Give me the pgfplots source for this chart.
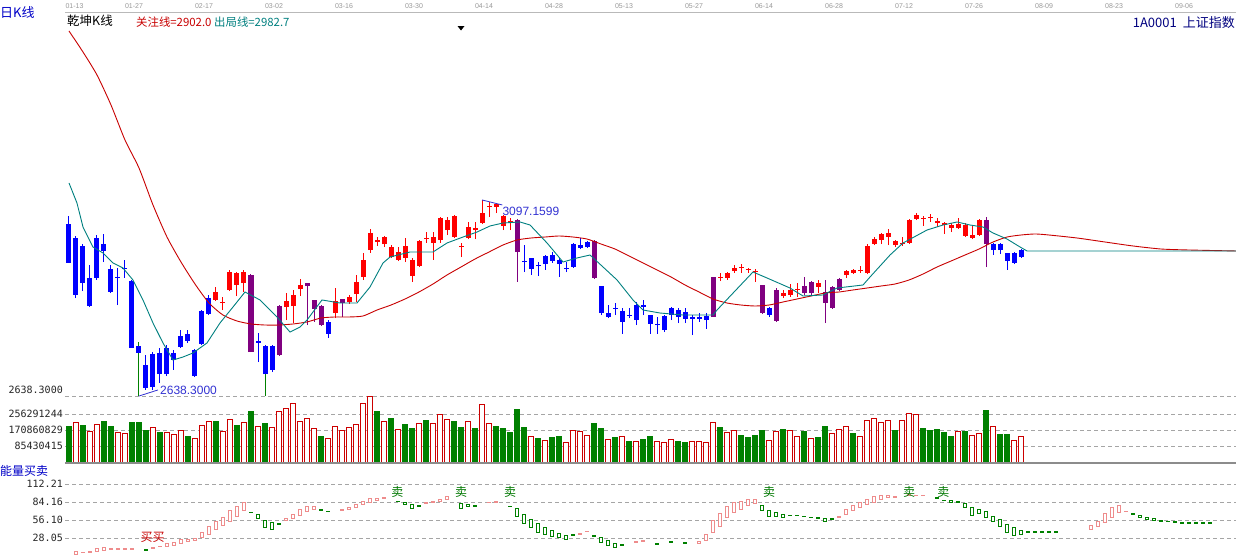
\documentclass[border=0pt]{standalone}
\usepackage{pgfplots}
\pgfplotsset{compat=1.18}
\usepackage{pgfplotstable}
\usepackage{fontspec}
\setmainfont{Liberation Sans}
\newfontfamily\cjk{Noto Sans CJK SC}
\newfontfamily\mono{DejaVu Sans Mono}
\definecolor{kred}{RGB}{255,0,0}
\definecolor{kblue}{RGB}{0,0,255}
\definecolor{kpurple}{RGB}{128,0,128}
\definecolor{kgreen}{RGB}{0,128,0}
\definecolor{lred}{RGB}{200,0,0}
\definecolor{lteal}{RGB}{0,128,128}
\definecolor{vgreen}{RGB}{0,128,0}
\definecolor{vred}{RGB}{204,0,0}
\definecolor{ppink}{RGB}{238,140,140}
\definecolor{gridgray}{RGB}{165,165,165}
\definecolor{navy}{RGB}{0,0,128}
\definecolor{lblue}{RGB}{0,0,200}
\definecolor{annblue}{RGB}{50,50,210}
\definecolor{sellgreen}{RGB}{0,120,0}

% candles: i open high low close
\pgfplotstableread{
i o h l c
0 3041.0 3059.7 2949.7 2949.7
1 3008.2 3012.9 2867.7 2874.8
2 2989.5 2994.1 2884.1 2902.8
3 2914.6 2945.0 2846.7 2849.0
4 3008.2 3015.2 2909.9 2914.6
5 2994.1 3017.6 2952.0 2977.8
6 2935.6 2945.0 2879.4 2881.8
7 2916.9 2938.0 2851.3 2914.6
8 2938.0 2956.7 2914.6 2935.6
9 2907.5 2909.9 2750.7 2750.7
10 2755.4 2755.4 2739.0 2739.0
11 2710.9 2734.3 2652.4 2657.1
12 2736.6 2741.3 2652.4 2659.4
13 2739.0 2750.7 2668.8 2689.8
14 2750.7 2757.7 2685.1 2689.8
15 2739.0 2746.0 2699.2 2722.6
16 2778.8 2792.8 2750.7 2753.0
17 2783.5 2792.8 2762.4 2767.1
18 2746.0 2748.3 2682.8 2685.1
19 2837.3 2839.6 2757.7 2760.1
20 2867.7 2874.8 2827.9 2830.3
27 2767.1 2785.8 2717.9 2762.4
28 2755.4 2757.7 2689.8 2689.8
29 2755.4 2757.7 2694.5 2699.2
37 2811.6 2816.2 2774.1 2783.5
65 2954.3 2991.8 2928.6 2952.0
66 2961.4 2961.4 2921.6 2935.6
67 2945.0 2952.0 2919.2 2942.6
68 2966.1 2968.4 2933.3 2947.3
69 2968.4 2975.4 2949.7 2954.3
70 2956.7 2961.4 2916.9 2947.3
71 2938.0 2952.0 2928.6 2935.6
72 2994.1 2996.5 2938.0 2940.3
73 2991.8 3008.2 2982.4 2984.8
74 2998.8 3001.2 2984.8 2987.1
76 2895.8 2895.8 2827.9 2832.6
77 2832.6 2851.3 2820.9 2823.3
78 2844.3 2856.0 2827.9 2842.0
79 2837.3 2844.3 2783.5 2811.6
80 2827.9 2844.3 2820.9 2825.6
81 2851.3 2858.4 2804.5 2816.2
82 2851.3 2863.1 2827.9 2846.7
83 2827.9 2827.9 2783.5 2806.9
84 2806.9 2823.3 2783.5 2804.5
85 2825.6 2827.9 2788.1 2792.8
86 2844.3 2846.7 2816.2 2827.9
87 2839.6 2844.3 2809.2 2823.3
88 2835.0 2844.3 2809.2 2818.6
89 2823.3 2827.9 2781.1 2818.6
90 2823.3 2832.6 2811.6 2818.6
91 2825.6 2832.6 2795.2 2816.2
100 2844.3 2846.7 2823.3 2827.9
132 2994.1 2996.5 2968.4 2980.1
133 2994.1 2996.5 2970.7 2980.1
134 2973.1 2973.1 2933.3 2954.3
135 2973.1 2975.4 2947.3 2949.7
136 2980.1 2982.4 2961.4 2963.7
}\tblue

\pgfplotstableread{
i o h l c
26 2921.6 2923.9 2741.3 2741.3
30 2849.0 2851.3 2732.0 2734.3
34 2902.8 2902.8 2804.5 2895.8
35 2863.1 2863.1 2811.6 2842.0
36 2849.0 2851.3 2802.2 2804.5
39 2865.4 2865.4 2823.3 2856.0
64 3050.3 3052.7 2905.2 2975.4
75 3001.2 3003.5 2912.2 2914.6
92 2916.9 2916.9 2823.3 2823.3
99 2898.2 2898.2 2830.3 2832.6
101 2886.5 2891.1 2811.6 2813.9
105 2895.8 2916.9 2874.8 2879.4
106 2905.2 2907.5 2872.4 2879.4
108 2881.8 2909.9 2809.2 2856.0
109 2893.5 2895.8 2842.0 2844.3
110 2912.2 2914.6 2884.1 2886.5
131 3050.3 3057.4 2940.3 2994.1
}\tpurple

\pgfplotstableread{
i o h l c
21 2863.1 2893.5 2860.7 2881.8
22 2856.0 2870.1 2839.6 2858.4
23 2886.5 2933.3 2884.1 2928.6
24 2898.2 2928.6 2872.4 2926.3
25 2902.8 2933.3 2881.8 2928.6
31 2846.7 2879.4 2816.2 2860.7
32 2849.0 2886.5 2809.2 2874.8
33 2888.8 2912.2 2872.4 2898.2
38 2832.6 2891.1 2820.9 2860.7
40 2858.4 2874.8 2853.7 2870.1
41 2877.1 2921.6 2858.4 2905.2
42 2916.9 2973.1 2909.9 2956.7
43 2980.1 3029.3 2973.1 3019.9
44 2998.8 3010.5 2989.5 3003.5
45 2994.1 3012.9 2987.1 3010.5
46 2963.7 2991.8 2961.4 2987.1
47 2956.7 2987.1 2954.3 2975.4
48 2961.4 3008.2 2952.0 2989.5
49 2919.2 2961.4 2905.2 2956.7
50 2942.6 3003.5 2940.3 3001.2
51 3005.8 3022.2 2996.5 3008.2
52 2996.5 3022.2 2956.7 3010.5
53 3003.5 3057.4 2996.5 3055.0
54 3026.9 3057.4 3015.2 3050.3
55 3010.5 3062.0 3008.2 3059.7
56 2987.1 2996.5 2963.7 2989.5
57 3008.2 3045.7 3005.8 3033.9
58 3026.9 3045.7 3005.8 3031.6
59 3043.3 3097.2 3041.0 3066.7
60 3080.8 3092.5 3057.4 3083.1
61 3080.8 3090.1 3066.7 3087.8
62 3036.3 3062.0 3026.9 3059.7
63 3045.7 3055.0 3026.9 3048.0
93 2914.6 2926.3 2907.5 2916.9
94 2914.6 2928.6 2909.9 2926.3
95 2930.9 2945.0 2926.3 2938.0
96 2938.0 2947.3 2926.3 2940.3
97 2933.3 2938.0 2926.3 2935.6
98 2928.6 2935.6 2905.2 2930.9
102 2872.4 2886.5 2867.7 2879.4
103 2874.8 2900.5 2870.1 2886.5
104 2886.5 2902.8 2870.1 2888.8
107 2893.5 2909.9 2879.4 2902.8
111 2921.6 2933.3 2914.6 2930.9
112 2926.3 2935.6 2923.9 2933.3
113 2930.9 2942.6 2926.3 2933.3
114 2926.3 2994.1 2923.9 2989.5
115 2994.1 3010.5 2991.8 3005.8
116 3003.5 3019.9 2994.1 3017.6
117 3010.5 3029.3 2991.8 3019.9
118 2991.8 3003.5 2987.1 3001.2
119 2994.1 3010.5 2989.5 2996.5
120 2996.5 3052.7 2994.1 3050.3
121 3052.7 3066.7 3050.3 3062.0
122 3052.7 3059.7 3036.3 3055.0
123 3055.0 3064.4 3045.7 3057.4
124 3043.3 3055.0 3033.9 3048.0
125 3038.6 3045.7 3017.6 3043.3
126 3031.6 3043.3 3022.2 3038.6
127 3031.6 3055.0 3029.3 3041.0
128 3012.9 3043.3 3010.5 3038.6
129 3008.2 3038.6 3005.8 3015.2
130 3015.2 3052.7 3012.9 3050.3
}\tred

\pgfplotstableread{
i h l
10 2764.7 2638.3
28 2689.8 2638.3
}\tgwick

% 关注线
\pgfplotstableread{
i p
0 3492.8
2 3443.6
4 3389.8
6 3319.6
8 3237.6
10 3172.1
12 3085.5
14 3010.5
16 2952.0
18 2900.5
20 2856.0
22 2827.9
24 2813.9
26 2806.9
28 2804.5
30 2804.5
32 2806.9
34 2811.6
36 2820.9
38 2823.3
40 2823.3
42 2825.6
44 2839.6
46 2851.3
48 2865.4
50 2881.8
52 2900.5
54 2921.6
56 2940.3
58 2959.0
60 2975.4
62 2991.8
64 3003.5
66 3008.2
68 3010.5
70 3012.9
72 3010.5
74 3005.8
76 2994.1
78 2982.4
80 2966.1
82 2949.7
84 2933.3
86 2916.9
88 2898.2
90 2881.8
92 2865.4
94 2856.0
96 2851.3
98 2849.0
100 2851.3
102 2858.4
104 2865.4
106 2872.4
108 2879.4
110 2881.8
112 2886.5
114 2891.1
116 2895.8
118 2900.5
120 2909.9
122 2923.9
124 2940.3
126 2954.3
128 2968.4
130 2982.4
132 2998.8
134 3010.5
136 3015.2
138 3017.6
140 3015.2
144 3008.2
148 2998.8
152 2989.5
156 2982.4
160 2980.1
166.7 2977.8
}\tfocus

% 出局线
\pgfplotstableread{
i p
0 3137.0
1.14 3090.1
2 3033.9
3.43 2987.1
4.86 2973.1
6.29 2949.7
7.71 2938.0
9.14 2909.9
10.57 2863.1
12 2809.2
13.43 2762.4
14.86 2722.6
16.29 2729.6
17.71 2739.0
19.71 2762.4
21.57 2809.2
23.43 2846.7
25.14 2881.8
27.29 2863.1
29.71 2823.3
31.57 2788.1
33 2799.8
34 2816.2
36.14 2863.1
38.71 2856.0
41.14 2856.0
43 2893.5
44.86 2949.7
45.86 2963.7
48.71 2975.4
52 2975.4
54 2996.5
56.29 3010.5
58.29 3022.2
60.14 3036.3
62 3043.3
64.43 3045.7
65.86 3038.6
68.29 2996.5
70.57 2952.0
72.57 2961.4
74.43 2968.4
76.29 2940.3
78.29 2909.9
80.57 2863.1
82 2839.6
84.43 2832.6
87.71 2827.9
92 2827.9
92.57 2839.6
97.71 2928.6
99.71 2914.6
103 2891.1
104.86 2872.4
107.71 2874.8
109.71 2891.1
113.43 2898.2
114.43 2916.9
117.29 2968.4
119.14 2996.5
122.57 3026.9
124.86 3038.6
126.86 3045.7
128.71 3038.6
130.57 3033.9
132 3019.9
134 3005.8
135.86 2987.1
136.86 2977.8
138.71 2977.8
166.71 2977.8
}\texit

% volume (millions)
\pgfplotstableread{
i v
0 192.2
2 197.6
5 218.9
6 192.2
9 209.8
10 213.6
11 170.9
13 156.4
17 138.8
21 218.9
24 197.6
26 272.3
28 206.6
36 138.8
44 272.3
46 233.3
48 202.9
49 179.9
51 224.3
55 218.9
56 185.3
58 179.9
61 192.2
62 179.9
63 156.4
64 283.0
65 185.3
67 126.5
69 131.9
70 138.8
75 206.6
76 179.9
78 131.9
80 112.1
82 121.2
83 135.1
87 112.1
88 103.0
93 185.3
96 144.2
97 131.9
98 144.2
99 170.9
102 174.6
105 165.5
107 131.9
108 192.2
112 153.2
118 170.9
122 179.9
123 170.9
124 176.2
125 156.4
126 138.8
128 161.8
131 277.6
133 149.5
134 149.5
}\volG

\pgfplotstableread{
i v
1 212.0
3 165.5
4 202.9
7 158.6
8 153.2
12 185.3
14 158.6
15 149.5
16 167.1
18 126.5
19 197.6
20 218.9
22 165.5
23 228.0
25 212.0
27 192.2
29 185.3
30 272.3
31 286.7
32 313.4
33 218.9
34 233.3
35 179.9
37 126.5
38 192.2
39 167.1
40 185.3
41 201.3
42 313.4
43 352.4
45 218.9
47 176.2
50 206.6
52 206.6
53 254.7
54 228.0
57 215.2
59 308.1
60 206.6
66 135.1
68 113.7
71 105.2
72 167.1
73 161.8
74 144.2
77 121.2
79 138.8
81 108.4
84 108.4
85 105.2
86 121.2
89 112.1
90 112.1
91 105.2
92 212.0
94 158.6
95 167.1
100 113.7
101 165.5
103 167.1
104 135.1
106 126.5
109 153.2
110 174.6
111 188.5
113 138.8
114 220.5
115 233.3
116 212.0
117 220.5
119 220.5
120 260.0
121 254.7
127 165.5
129 144.2
130 153.2
132 192.2
135 117.5
136 138.8
}\volR

% 能量买卖
\pgfplotstableread{
i lo hi
1 3.1 6.7
2 5.1 5.9
3 5.7 6.5
4 6.7 12.0
5 9.3 13.0
6 10.9 11.7
7 10.9 11.7
8 10.9 11.7
9 10.9 11.7
12 12.0 12.8
13 14.5 15.3
14 14.5 19.7
15 17.1 21.3
16 19.7 26.5
17 22.3 26.5
18 23.9 28.0
19 29.1 36.3
20 34.3 45.7
21 41.6 53.4
22 47.2 59.7
23 53.4 71.7
24 62.3 77.9
25 70.6 83.0
31 55.0 58.7
32 58.7 65.4
33 63.9 72.8
34 69.0 76.8
35 72.8 77.9
39 71.7 72.5
40 72.8 75.9
41 75.9 79.9
42 81.0 85.2
43 83.0 90.4
44 86.2 90.4
45 89.9 90.7
51 82.1 82.9
52 83.0 84.6
53 85.7 88.8
54 88.8 92.4
60 83.0 83.8
61 83.7 85.7
73 34.3 35.1
74 37.9 38.7
81 21.3 22.1
82 23.4 24.2
90 19.7 23.4
91 24.9 34.3
92 36.3 56.1
93 46.7 66.5
94 60.3 76.8
95 68.1 83.0
96 73.2 84.6
97 79.5 88.3
98 82.1 88.8
110 60.3 62.3
111 65.4 72.8
112 71.7 79.5
113 75.9 83.7
114 81.0 88.8
115 83.7 92.4
116 88.3 95.0
117 91.4 95.0
118 91.4 92.2
120 95.0 95.8
121 94.0 94.8
122 94.0 94.8
146 41.6 47.2
147 45.7 53.4
148 51.9 66.5
149 60.3 75.3
150 68.1 78.4
151 69.0 69.8
}\enP

\pgfplotstableread{
i lo hi
11 9.3 10.1
26 67.5 68.3
27 58.7 65.0
28 44.7 56.1
29 41.6 51.9
30 49.9 50.7
36 71.7 72.5
37 69.0 69.8
47 84.6 85.4
48 80.6 83.7
49 73.7 79.9
50 77.9 78.7
56 74.3 82.1
57 76.8 80.6
58 77.9 78.7
63 76.8 77.6
64 62.3 74.3
65 50.9 65.0
66 44.7 57.2
67 36.3 50.9
68 34.3 44.7
69 31.2 40.5
70 29.1 35.4
71 26.0 32.7
72 32.7 33.5
75 31.2 32.0
76 20.7 28.5
77 16.1 23.9
78 13.5 19.7
79 17.1 17.9
84 18.7 19.5
86 21.3 22.1
88 19.7 20.5
99 71.7 78.4
100 61.2 71.7
101 61.2 68.1
102 60.3 65.0
103 62.8 63.6
104 62.8 63.6
105 61.2 62.0
106 60.0 60.8
107 59.0 59.8
108 54.5 58.7
109 57.2 58.0
124 89.9 90.7
125 86.2 87.0
126 83.7 87.3
127 83.7 84.5
128 75.9 82.1
129 63.9 75.3
130 66.5 73.2
131 60.3 69.0
132 53.4 62.3
133 45.7 57.2
134 36.3 49.4
135 32.7 44.7
136 34.3 40.5
137 36.9 37.7
138 36.9 37.7
139 36.9 37.7
140 36.9 37.7
141 36.9 37.7
152 65.4 66.2
153 60.3 63.9
154 57.2 60.3
155 56.1 58.7
156 53.4 56.1
157 53.4 54.2
158 52.5 53.3
159 50.9 51.7
160 50.9 51.7
161 50.9 51.7
162 50.9 51.7
163 50.9 51.7
}\enG

\pgfplotsset{
  panel/.style={scale only axis, width=1171pt, xmin=-0.57, xmax=166.71,
    axis line style={draw=none}, major tick length=0pt, clip=false,
    grid style={gridgray, dash pattern=on 4pt off 3pt, line width=0.8pt},
    yticklabel style={font=\mono\fontsize{10}{12}\selectfont, text=black!85, inner sep=0pt, xshift=-2pt}},
  wick/.style={draw=none, mark=none, forget plot, error bars/.cd, y dir=plus, y explicit, error mark=none,
    error bar style={draw=#1, line width=1pt}},
  body/.style={draw=none, mark=none, forget plot, error bars/.cd, y dir=plus, y explicit, error mark=none,
    error bar style={draw=#1, fill=#1, line width=5pt}},
}

\begin{document}
\begin{tikzpicture}[x=1pt,y=1pt]
\fill[white] (0pt,0pt) rectangle (1236pt,-555pt);
\draw[gray!55, line width=1.3pt] (65pt,-12.3pt) -- (1236pt,-12.3pt);

% ---------- main price panel
\begin{axis}[panel, at={(65pt,-396pt)}, anchor=south west, height=383pt,
  ymin=2638.3, ymax=3534.9,
  xtick={0.79,9.29,19.29,29.29,39.29,49.29,59.29,69.29,79.29,89.29,99.29,109.29,119.29,129.29,139.29,149.29,159.29},
  xticklabels={01-13,01-27,02-17,03-02,03-16,03-30,04-14,04-28,05-13,05-27,06-14,06-28,07-12,07-26,08-09,08-23,09-06},
  xticklabel pos=upper,
  xticklabel style={font=\fontsize{7}{8}\selectfont, text=gray!80, anchor=south, inner sep=0pt, yshift=4pt},
  ytick={2638.3}, yticklabels={2638.3000}, ymajorgrids,
  yticklabel style={yshift=6pt},
]
\addplot[wick=kgreen] table[x=i, y=l, y error expr=\thisrow{h}-\thisrow{l}] \tgwick;
\addplot[wick=kblue] table[x=i, y=l, y error expr=\thisrow{h}-\thisrow{l}] \tblue;
\addplot[wick=kpurple] table[x=i, y=l, y error expr=\thisrow{h}-\thisrow{l}] \tpurple;
\addplot[wick=kred] table[x=i, y=l, y error expr=\thisrow{h}-\thisrow{l}] \tred;
\addplot[body=kblue] table[x=i, y expr={min(\thisrow{o},\thisrow{c})}, y error expr={abs(\thisrow{o}-\thisrow{c})}] \tblue;
\addplot[body=kpurple] table[x=i, y expr={min(\thisrow{o},\thisrow{c})}, y error expr={abs(\thisrow{o}-\thisrow{c})}] \tpurple;
\addplot[body=kred] table[x=i, y expr={min(\thisrow{o},\thisrow{c})}, y error expr={abs(\thisrow{o}-\thisrow{c})}] \tred;
\addplot[lred, line width=0.9pt, smooth, tension=0.4, mark=none] table[x=i, y=p] \tfocus;
\addplot[lteal, line width=0.9pt, mark=none] table[x=i, y=p] \texit;
% extreme value marks
\draw[annblue, line width=0.8pt] (axis cs:59,3097.2) -- (axis cs:61.9,3085.5);
\node[anchor=west, inner sep=0pt, text=annblue, font=\fontsize{12}{12}\selectfont] at (axis cs:61.9,3070.2) {3097.1599};
\draw[annblue, line width=0.8pt] (axis cs:10,2638.3) -- (axis cs:12.7,2652.4);
\node[anchor=west, inner sep=0pt, text=annblue, font=\fontsize{12}{12}\selectfont] at (axis cs:13,2652.4) {2638.3000};
\end{axis}

% ---------- volume panel
\begin{axis}[panel, at={(65pt,-462pt)}, anchor=south west, height=66pt,
  ymin=0, ymax=352.4, xtick=\empty,
  ytick={85.430415,170.860829,256.291244}, yticklabels={85430415,170860829,256291244}, ymajorgrids,
]
\addplot[ybar, bar width=5pt, bar shift=0pt, draw=vgreen, fill=vgreen, line width=0.8pt] table[x=i, y=v] \volG;
\addplot[ybar, bar width=5pt, bar shift=0pt, draw=vred, fill=white, line width=0.8pt] table[x=i, y=v] \volR;
\draw[gray!90, line width=2pt] (axis cs:-0.57,-4) -- (axis cs:166.71,-4);
\end{axis}

% ---------- energy panel (pink)
\begin{axis}[panel, at={(65pt,-556pt)}, anchor=south west, height=72pt,
  ymin=0, ymax=112.21, xtick=\empty, ybar stacked, bar width=3pt,
  ytick={28.05,56.10,84.16,112.21}, yticklabels={28.05,56.10,84.16,112.21}, ymajorgrids,
]
\addplot[draw=none, fill=none] table[x=i, y=lo] \enP;
\addplot[draw=ppink, fill=white, line width=0.8pt] table[x=i, y expr=\thisrow{hi}-\thisrow{lo}] \enP;
\end{axis}
% ---------- energy panel (green)
\begin{axis}[panel, at={(65pt,-556pt)}, anchor=south west, height=72pt,
  ymin=0, ymax=112.21, xtick=\empty, ytick=\empty, ybar stacked, bar width=3pt,
]
\addplot[draw=none, fill=none] table[x=i, y=lo] \enG;
\addplot[draw=vgreen, fill=white, line width=0.8pt] table[x=i, y expr=\thisrow{hi}-\thisrow{lo}] \enG;
\node[text=sellgreen, inner sep=0pt, font=\cjk\fontsize{12}{12}\selectfont] at (axis cs:46.9,99.7) {卖};
\node[text=sellgreen, inner sep=0pt, font=\cjk\fontsize{12}{12}\selectfont] at (axis cs:56.0,99.7) {卖};
\node[text=sellgreen, inner sep=0pt, font=\cjk\fontsize{12}{12}\selectfont] at (axis cs:63.0,99.7) {卖};
\node[text=sellgreen, inner sep=0pt, font=\cjk\fontsize{12}{12}\selectfont] at (axis cs:100.0,99.7) {卖};
\node[text=sellgreen, inner sep=0pt, font=\cjk\fontsize{12}{12}\selectfont] at (axis cs:120.0,99.7) {卖};
\node[text=sellgreen, inner sep=0pt, font=\cjk\fontsize{12}{12}\selectfont] at (axis cs:124.9,99.7) {卖};
\node[text=lred, inner sep=0pt, font=\cjk\fontsize{12}{12}\selectfont] at (axis cs:11.93,28.8) {买买};
\end{axis}

% ---------- titles
\node[anchor=west, inner sep=0pt, text=lblue, font=\cjk\fontsize{13}{13}\selectfont] at (0pt,-12.5pt) {日K线};
\node[anchor=west, inner sep=0pt, text=black, font=\cjk\fontsize{12.5}{13}\selectfont] at (67pt,-20.5pt) {乾坤K线};
\node[anchor=west, inner sep=0pt, text=lred, font=\cjk\fontsize{11.4}{12}\selectfont] at (136pt,-22pt) {关注线=2902.0};
\node[anchor=west, inner sep=0pt, text=lteal, font=\cjk\fontsize{11.4}{12}\selectfont] at (214pt,-22pt) {出局线=2982.7};
\node[anchor=east, inner sep=0pt, text=navy, font=\cjk\fontsize{13}{13}\selectfont] at (1235pt,-22.5pt) {1A0001\hspace{6pt}上证指数};
\fill[black] (457.5pt,-26pt) -- (464.5pt,-26pt) -- (461pt,-30.5pt) -- cycle;
\node[anchor=west, inner sep=0pt, text=lblue, font=\cjk\fontsize{12}{12}\selectfont] at (0pt,-471pt) {能量买卖};
\pgfresetboundingbox
\useasboundingbox (0pt,0pt) rectangle (1236pt,-555pt);
\end{tikzpicture}
\end{document}
